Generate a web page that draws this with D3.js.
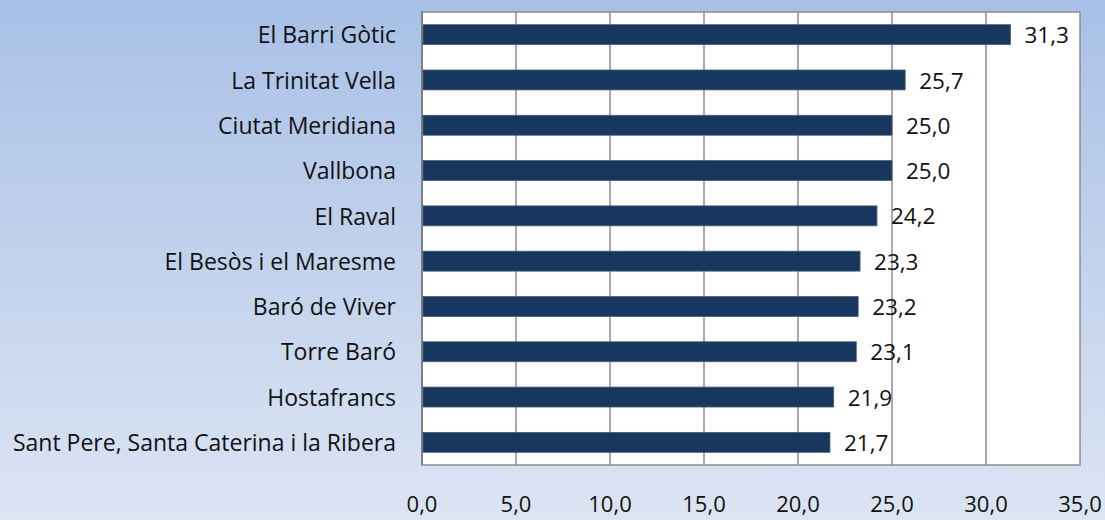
<!DOCTYPE html>
<html>
<head>
<script src="https://d3js.org/d3.v7.min.js"></script>
<style>
  body { margin: 0; }
  text { font-family: "Open Sans", sans-serif; fill: #111; }
</style>
</head>
<body>
<script>
var categories = ["El Barri Gòtic", "La Trinitat Vella", "Ciutat Meridiana", "Vallbona", "El Raval",
  "El Besòs i el Maresme", "Baró de Viver", "Torre Baró", "Hostafrancs", "Sant Pere, Santa Caterina i la Ribera"];
var values = [31.3, 25.7, 25.0, 25.0, 24.2, 23.3, 23.2, 23.1, 21.9, 21.7];
var ticks = [0, 5, 10, 15, 20, 25, 30, 35];

var W = 1105, H = 520;
// plot area edges (don't use "top", it's window.top)
var pLeft = 422, pRight = 1080, pTop = 12, pBottom = 465;
var fmt = function(v) { return v.toFixed(1).replace(".", ","); };

var svg = d3.select("body").append("svg").attr("width", W).attr("height", H);

var grad = svg.append("defs").append("linearGradient")
  .attr("id", "bg").attr("x1", 0).attr("y1", 0).attr("x2", 0).attr("y2", 1);
grad.append("stop").attr("offset", "0%").attr("stop-color", "#a8c0e7");
grad.append("stop").attr("offset", "100%").attr("stop-color", "#dce4f3");
svg.append("rect").attr("width", W).attr("height", H).attr("fill", "url(#bg)");

var x = d3.scaleLinear().domain([0, 35]).range([pLeft, pRight]);
var y = d3.scaleBand().domain(categories).range([pTop, pBottom]).paddingInner(0.56).paddingOuter(0.28);

svg.append("rect").attr("x", pLeft).attr("y", pTop).attr("width", pRight - pLeft).attr("height", pBottom - pTop)
  .attr("fill", "#fff").attr("stroke", "#8c8c8c").attr("stroke-width", 1.5);

svg.append("g").selectAll("line").data(ticks.slice(1, -1)).join("line")
  .attr("x1", d => x(d)).attr("x2", d => x(d)).attr("y1", pTop).attr("y2", pBottom)
  .attr("stroke", "#8c8c8c").attr("stroke-width", 1.5);

svg.append("line").attr("x1", pLeft).attr("x2", pLeft).attr("y1", pTop).attr("y2", pBottom)
  .attr("stroke", "#808080").attr("stroke-width", 2);

svg.append("g").selectAll("rect").data(values).join("rect")
  .attr("x", x(0) + 1).attr("y", (d, i) => y(categories[i]))
  .attr("width", d => x(d) - x(0) - 1).attr("height", y.bandwidth())
  .attr("fill", "#17375e").attr("stroke", "#4a5d78").attr("stroke-width", 0.8);

svg.append("g").selectAll("text").data(values).join("text")
  .attr("x", d => x(d) + 14).attr("y", (d, i) => y(categories[i]) + y.bandwidth() / 2)
  .attr("dy", "0.38em").attr("font-size", 22.5).text(fmt);

svg.append("g").selectAll("text").data(categories).join("text")
  .attr("x", 396).attr("y", d => y(d) + y.bandwidth() / 2)
  .attr("dy", "0.38em").attr("text-anchor", "end").attr("font-size", 23).text(d => d);

svg.append("g").selectAll("text").data(ticks).join("text")
  .attr("x", d => x(d)).attr("y", 512)
  .attr("text-anchor", "middle").attr("font-size", 22).text(fmt);
</script>
</body>
</html>
